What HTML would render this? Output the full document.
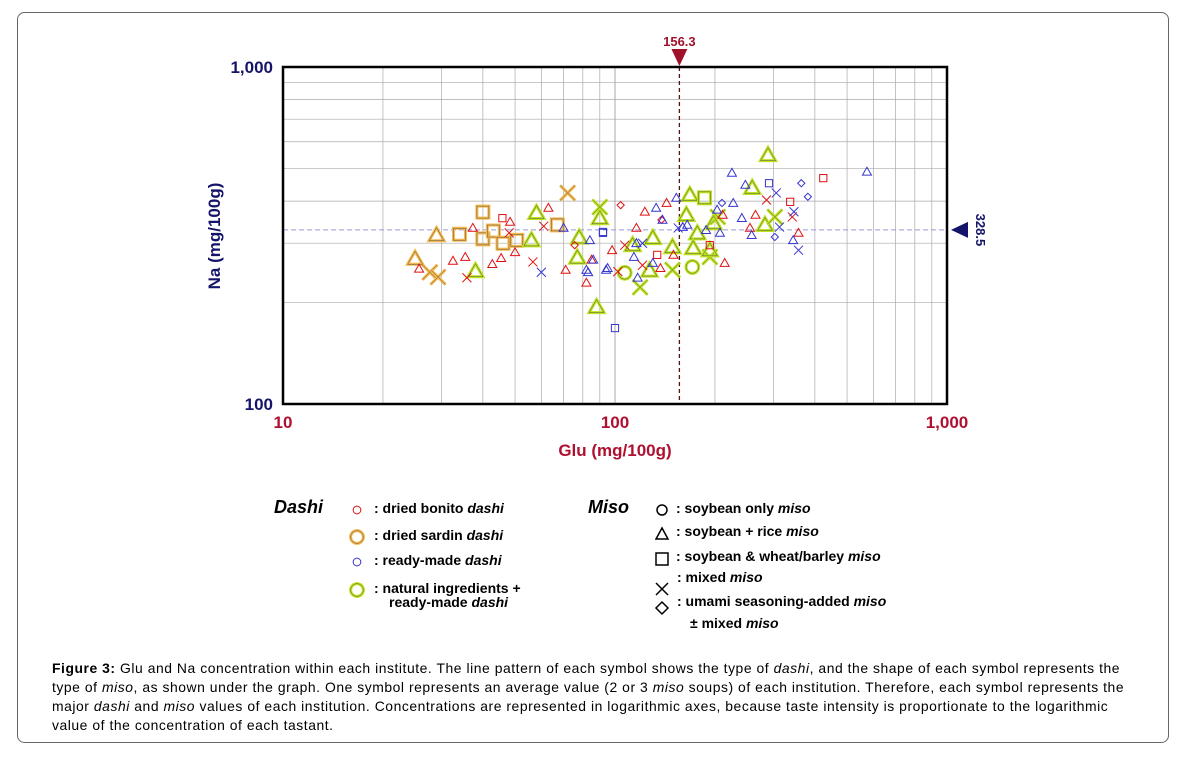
<!DOCTYPE html>
<html><head><meta charset="utf-8"><style>
body{margin:0;background:#fff;}
svg{display:block;font-family:"Liberation Sans",Arial,sans-serif;}
.cap{position:absolute;left:52px;top:659px;width:1110px;white-space:nowrap;letter-spacing:0.55px;font:13.9px/19px "Liberation Sans",Arial,sans-serif;color:#000;}
</style></head><body>
<div style="position:relative;width:1181px;height:761px;overflow:hidden">
<svg id="chart" width="1181" height="761">
<rect x="17.5" y="12.5" width="1151" height="730" rx="7" fill="none" stroke="#666"/>
<g id="grid"></g>
<g id="marks"></g>
<g id="frame"></g>
<g id="legend"></g>
</svg>
<div class="cap"><b>Figure 3:</b> Glu and Na concentration within each institute. The line pattern of each symbol shows the type of <i>dashi</i>, and the shape of each symbol represents the<br>type of <i>miso</i>, as shown under the graph. One symbol represents an average value (2 or 3 <i>miso</i> soups) of each institution. Therefore, each symbol represents the<br>major <i>dashi</i> and <i>miso</i> values of each institution. Concentrations are represented in logarithmic axes, because taste intensity is proportionate to the logarithmic<br>value of the concentration of each tastant.</div>
</div>
<script>
// dashi: b=bonito, s=sardin, r=ready-made, n=natural ; miso shape: o,t,s,x,d
const gluValues=[25,29,27.7,29.3,40,34,40,43,46,50.6,67,72,
38,58,56,78,77,90,90,88,289,259,168,186,164,177,149,172,149,119,107,171,193,193,283,303,204,198,127,113,130,
25.7,32.5,35.4,35.8,37.3,45.8,48.3,48,42.7,45.4,50,56.6,63,61,71,75.6,82,85,104,98,107,102,123,143,138,116,121,134,137,150,193,214,265,424,286,337,342,357,255,211,
574,225,291,364,381,247,306,346,344,357,303,313,258,241,210,227,203,207,188,160,153,133,116,114,117,94,82,86,100,92,121,155,165,139,130,60,70,83,95,84,92];
const naValues=[270,317,246,238,371,319,309,326,300,306,340,423,
248,369,306,312,272,356,384,194,548,438,417,409,364,321,292,290,250,222,245,255,273,286,340,359,359,344,249,296,311,
252,266,273,237,333,356,347,322,260,271,282,264,382,337,250,296,229,268,389,286,296,247,372,395,352,333,258,277,253,277,296,262,364,468,403,398,359,322,333,364,
489,485,452,452,412,447,423,372,306,286,313,335,317,356,395,395,377,322,328,335,409,382,300,273,237,250,250,268,168,324,300,333,340,352,262,246,333,246,253,306,322];
const dashiTypes=("ssssssssssss"+"nnnnnnnnnnnnnnnnnnnnnnnnnnnnn"+"bbbbbbbbbbbbbbbbbbbbbbbbbbbbbbbbbbbbbbbb"+"rrrrrrrrrrrrrrrrrrrrrrrrrrrrrrrrrrrrrrrrr").split('');
const misoShapes=("ttxxsssssssx"+"ttttttxttttsttttxxooxttxxtttt"+"tttxtstxtttxtxtdttdtxxttdtxsttsttsxsxttt"+"ttsddtxxtxdxttdtttttttttttttssxxtttxtttts").split('');
const xTicks=[10,100,1000], xTickLabels=["10","100","1,000"];
const yTicks=[100,1000], yTickLabels=["100","1,000"];
const refGlu=156.3, refNa=328.5;

const NS="http://www.w3.org/2000/svg";
const L=283,R=947,T=67,B=404;
const xs=v=>L+(Math.log10(v)-1)/2*(R-L);
const ys=v=>B-(Math.log10(v)-2)/1*(B-T);
function el(tag,attrs,parent){const e=document.createElementNS(NS,tag);for(const k in attrs)e.setAttribute(k,attrs[k]);parent.appendChild(e);return e;}
const grid=document.getElementById('grid'),marks=document.getElementById('marks'),frame=document.getElementById('frame'),leg=document.getElementById('legend');
for(let d=10;d<1000;d*=10)for(let m=2;m<=10;m++){const v=d*m;if(v>=1000)continue;
 const g=el('line',{x1:xs(v),x2:xs(v),y1:T,y2:B,stroke:'#aaa','stroke-width':m==10?1:0.7},grid);
 }
for(let m=2;m<=9;m++){const v=100*m;
 const g=el('line',{x1:L,x2:R,y1:ys(v),y2:ys(v),stroke:'#aaa','stroke-width':0.7},grid);
 }
let a=el('line',{x1:xs(refGlu),x2:xs(refGlu),y1:T,y2:B,stroke:'#5a1010','stroke-width':1.3,'stroke-dasharray':'4,3'},grid);

a=el('line',{x1:L,x2:R,y1:ys(refNa),y2:ys(refNa),stroke:'#9a9ad8','stroke-width':1,'stroke-dasharray':'5,3'},grid);


const col={b:'#e01010',s:'#f7b84a',r:'#3535d0',n:'#bde41c'};
function drawMark(x,y,dt,sh,parent,big){
 const r=big?7.5:4.5, sw=big?3:1;
 const g=el('g',{},parent);
 const paint=(stroke,w)=>{const at={fill:'none',stroke:stroke,'stroke-width':w};
  if(sh=='o')el('circle',Object.assign({cx:x,cy:y,r:r*0.85},at),g);
  else if(sh=='t')el('polygon',Object.assign({points:`${x},${y-r} ${x-r},${y+r*0.75} ${x+r},${y+r*0.75}`},at),g);
  else if(sh=='s')el('rect',Object.assign({x:x-r*0.8,y:y-r*0.8,width:r*1.6,height:r*1.6},at),g);
  else if(sh=='d')el('polygon',Object.assign({points:`${x},${y-r*0.8} ${x+r*0.8},${y} ${x},${y+r*0.8} ${x-r*0.8},${y}`},at),g);
  else el('path',Object.assign({d:`M${x-r},${y-r}L${x+r},${y+r}M${x-r},${y+r}L${x+r},${y-r}`},at),g);};
 paint(col[dt],sw);
 if(big)paint('#555',0.5);
 return g;}
for(let i=0;i<gluValues.length;i++){
 const dt=dashiTypes[i]||'r', sh=misoShapes[i]||'t';
 const big=(dt=='s'||dt=='n');
 const g=drawMark(xs(gluValues[i]),ys(naValues[i]),dt,sh,marks,big);
 
 }

a=el('rect',{x:L,y:T,width:R-L,height:B-T,fill:'none',stroke:'#000','stroke-width':2.5},frame);

xTicks.forEach((v,i)=>{const t=el('text',{x:xs(v),y:428,'text-anchor':'middle','font-size':17,'font-weight':'bold',fill:'#b01030'},frame);t.textContent=xTickLabels[i];
 });
yTicks.forEach((v,i)=>{const t=el('text',{x:273,y:ys(v)+6,'text-anchor':'end','font-size':17,'font-weight':'bold',fill:'#14146a'},frame);t.textContent=yTickLabels[i];
 });
let t=el('text',{x:615,y:456,'text-anchor':'middle','font-size':17,'font-weight':'bold',fill:'#b01030'},frame);t.textContent='Glu (mg/100g)';

t=el('text',{x:0,y:0,transform:'translate(220,236) rotate(-90)','text-anchor':'middle','font-size':17,'font-weight':'bold',fill:'#14146a'},frame);t.textContent='Na (mg/100g)';

const gx=xs(refGlu);
a=el('polygon',{points:`${gx-8},49 ${gx+8},49 ${gx},66`,fill:'#a0102a'},frame);
t=el('text',{x:gx,y:46,'text-anchor':'middle','font-size':13,'font-weight':'bold',fill:'#a0102a'},frame);t.textContent=String(refGlu);

const ny=ys(refNa);
a=el('polygon',{points:`${951},${ny} ${968},${ny-8} ${968},${ny+8}`,fill:'#14146a'},frame);
t=el('text',{x:0,y:0,transform:`translate(976,${ny}) rotate(90)`,'text-anchor':'middle','font-size':13,'font-weight':'bold',fill:'#14146a'},frame);t.textContent=String(refNa);


function txt(x,y,html,name,size){const e=el('text',{x:x,y:y,'font-size':size||14,'font-weight':'bold',fill:'#000'},leg);e.innerHTML=html;return e;}
txt(274,513,'<tspan font-style="italic">Dashi</tspan>','legend-dashi-title',18);
txt(588,513,'<tspan font-style="italic">Miso</tspan>','legend-miso-title',18);
const dl=[['b',508,'dried bonito',false],['s',535,'dried sardin',true],['r',560,'ready-made',false],['n',588,'natural ingredients +',true]];
dl.forEach(d=>{const g=drawMark(357,d[1]+2,d[0],'o',leg,d[3]);
 txt(374,d[1]+5,': '+d[2]+(d[0]=='n'?'':' <tspan font-style="italic">dashi</tspan>'),'legend-dashi-'+d[0]);});
txt(389,607,'ready-made <tspan font-style="italic">dashi</tspan>','legend-dashi-n-2');
const ml=[['o',508,': soybean only '],['t',531,': soybean + rice '],['s',556,': soybean &amp; wheat/barley ']];
ml.forEach(m=>{const g=el('g',{},leg);const x=662,y=m[1]+2;
 if(m[0]=='o')el('circle',{cx:x,cy:y,r:5,fill:'none',stroke:'#000','stroke-width':1.5},g);
 if(m[0]=='t')el('polygon',{points:`${x},${y-5} ${x-6},${y+6} ${x+6},${y+6}`,fill:'none',stroke:'#000','stroke-width':1.5},g);
 if(m[0]=='s')el('rect',{x:x-6,y:y-5,width:12,height:12,fill:'none',stroke:'#000','stroke-width':1.5},g);
 
 txt(676,m[1]+5,m[2]+'<tspan font-style="italic">miso</tspan>','legend-miso-'+m[0]);});
let g=el('g',{},leg);el('path',{d:'M656,583L668,595M656,595L668,583',stroke:'#000','stroke-width':1.5},g);
el('polygon',{points:'662,602 668,608 662,614 656,608',fill:'none',stroke:'#000','stroke-width':1.5},g);

txt(677,582,': mixed <tspan font-style="italic">miso</tspan>','legend-miso-x');
txt(677,606,': umami seasoning-added <tspan font-style="italic">miso</tspan>','legend-miso-d');
txt(690,628,'± mixed <tspan font-style="italic">miso</tspan>','legend-miso-d-2');
</script>
</body></html>
